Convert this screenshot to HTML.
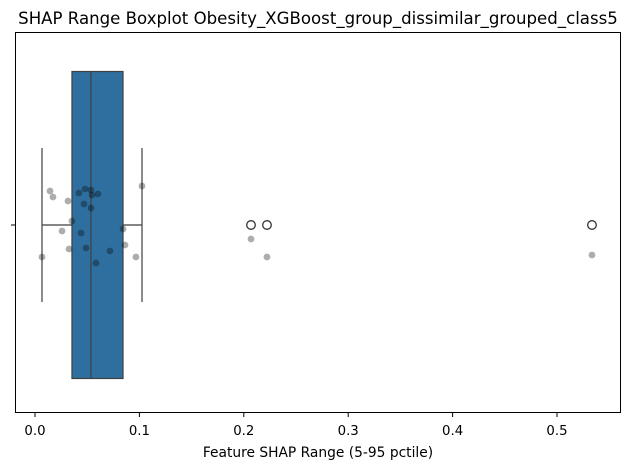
<!DOCTYPE html>
<html><head><meta charset="utf-8"><style>
body{margin:0;background:#fff;}
svg text{font-family:"DejaVu Sans","Liberation Sans",sans-serif;}
</style></head><body>
<svg width="630" height="470" viewBox="0 0 630 470">
<text x="318" y="24" text-anchor="middle" font-size="16.6" fill="#000">SHAP Range Boxplot Obesity_XGBoost_group_dissimilar_grouped_class5</text>
<g id="plot"></g>
<rect x="15.5" y="32.5" width="605" height="380" fill="none" stroke="#000" stroke-width="1"/>
<text x="318" y="457" text-anchor="middle" font-size="13.8" fill="#000">Feature SHAP Range (5-95 pctile)</text>
</svg>
<script>
const tickValues=[0,0.1,0.2,0.3,0.4,0.5];
const tickLabels=["0.0","0.1","0.2","0.3","0.4","0.5"];
const boxStats=[0.0067,0.0354,0.0536,0.0843,0.1025]; // whiskerLow,q1,median,q3,whiskerHigh
const outliers=[0.2069,0.2222,0.5335];
const pointValues=[0.0144,0.0172,0.0316,0.0421,0.0479,0.0536,0.0546,0.0603,0.0469,0.0536,0.0354,0.0259,0.0441,0.0326,0.0489,0.0584,0.0718,0.0843,0.0862,0.0967,0.1025,0.0067,0.2069,0.2222,0.5335];
const pointJitter=[-34,-28,-24,-32,-36,-35,-30,-31,-21,-17,-4,6,8,24,23,38,26,4,20,32,-39,32,14,32,30];
const NS="http://www.w3.org/2000/svg";
const g=document.getElementById('plot');
function x(v){return 35+v*1044;}
const cy=225;
function mk(t,a){const e=document.createElementNS(NS,t);for(const k in a)e.setAttribute(k,a[k]);g.appendChild(e);return e;}
tickValues.forEach((v,i)=>{
  const t=mk('line',{x1:x(v),x2:x(v),y1:413,y2:417,stroke:'#000'});
  
  
  const l=mk('text',{x:x(v),y:435,'text-anchor':'middle','font-size':'13.3',fill:'#000'});
  l.textContent=tickLabels[i];
  
  
});
const yt=mk('line',{x1:11,x2:15.5,y1:cy,y2:cy,stroke:'#000'});


const [wl,q1,med,q3,wh]=boxStats;
const wk1=mk('line',{x1:x(wl),x2:x(q1),y1:cy,y2:cy,stroke:'#3f3f3f','stroke-width':1.2});


const wk2=mk('line',{x1:x(q3),x2:x(wh),y1:cy,y2:cy,stroke:'#3f3f3f','stroke-width':1.2});


const c1=mk('line',{x1:x(wl),x2:x(wl),y1:148,y2:302,stroke:'#3f3f3f','stroke-width':1.2});


const c2=mk('line',{x1:x(wh),x2:x(wh),y1:148,y2:302,stroke:'#3f3f3f','stroke-width':1.2});


const box=mk('rect',{x:x(q1),y:71.5,width:x(q3)-x(q1),height:307,fill:'#2f6f9f',stroke:'#3f3f3f','stroke-width':1.2});


const m=mk('line',{x1:x(med),x2:x(med),y1:71.5,y2:378.5,stroke:'#3f3f3f','stroke-width':1.2});


outliers.forEach(v=>{
  const c=mk('circle',{cx:x(v),cy:cy,r:4.3,fill:'none',stroke:'#333','stroke-width':1.3});
  
  
});
pointValues.forEach((v,i)=>{
  const c=mk('circle',{cx:x(v),cy:cy+pointJitter[i],r:3.4,fill:'rgba(0,0,0,0.32)'});
  
  
});
</script>
</body></html>
